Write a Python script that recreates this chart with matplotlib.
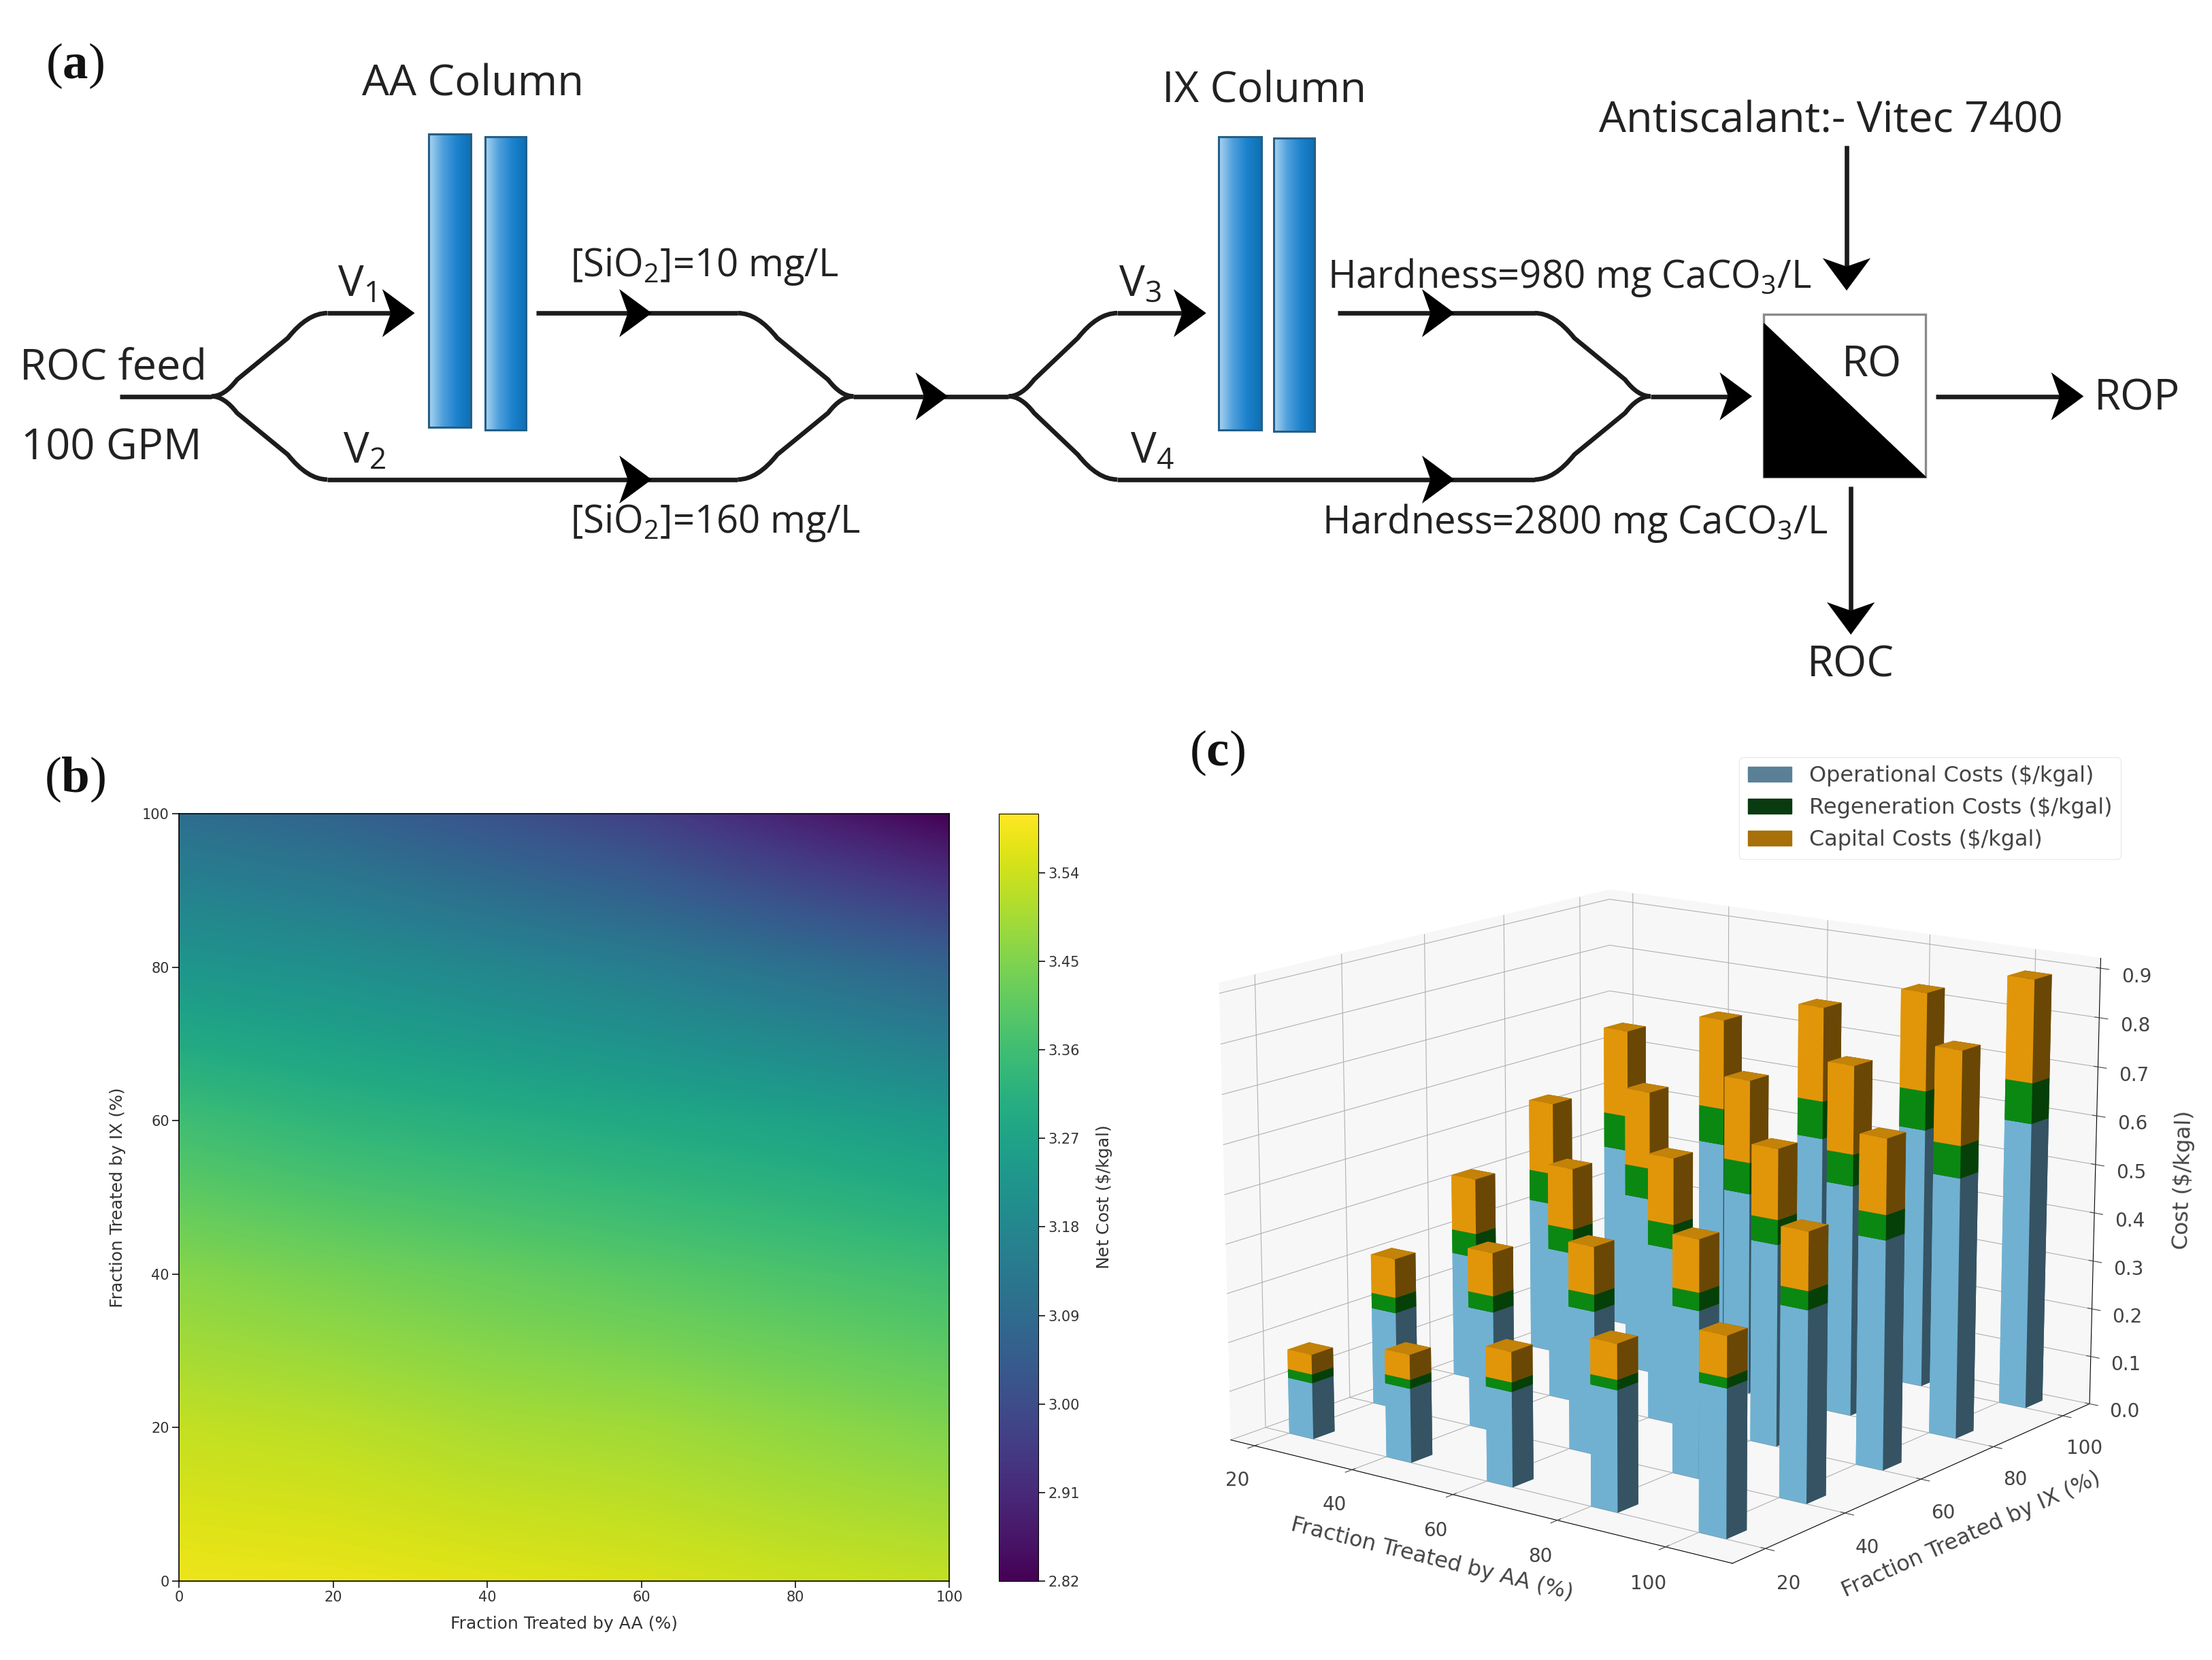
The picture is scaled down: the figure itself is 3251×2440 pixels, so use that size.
import numpy as np
import matplotlib
matplotlib.use('Agg')
import matplotlib.pyplot as plt
from matplotlib.colors import LinearSegmentedColormap
from matplotlib.patches import Polygon, Rectangle, Patch, PathPatch
from matplotlib.path import Path

# panel b: net cost (rows IX = 0..100, cols AA = 0..100)
grid_ticks = [0, 20, 40, 60, 80, 100]
net_cost = [
    [3.58, 3.575, 3.565, 3.555, 3.54, 3.53],
    [3.53, 3.52, 3.50, 3.49, 3.47, 3.45],
    [3.46, 3.44, 3.42, 3.40, 3.38, 3.36],
    [3.36, 3.33, 3.31, 3.29, 3.27, 3.24],
    [3.23, 3.21, 3.18, 3.15, 3.11, 3.07],
    [3.10, 3.07, 3.02, 2.97, 2.89, 2.82],
]
cbar_ticks = [2.82, 2.91, 3.00, 3.09, 3.18, 3.27, 3.36, 3.45, 3.54]

# panel c: cost stacks (rows IX = 20..100, cols AA = 20..100)
fractions = [20, 40, 60, 80, 100]
operational = [
    [.115, .15, .19, .24, .29],
    [.20, .245, .29, .335, .38],
    [.26, .31, .36, .41, .46],
    [.32, .37, .42, .475, .53],
    [.385, .435, .485, .54, .59],
]
regeneration = [
    [.018, .018, .019, .02, .02],
    [.032, .033, .034, .036, .037],
    [.05, .05, .05, .05, .05],
    [.065, .065, .065, .065, .065],
    [.075, .077, .079, .081, .083],
]
capital = [
    [.04, .05, .06, .07, .08],
    [.08, .088, .096, .105, .115],
    [.115, .125, .135, .142, .15],
    [.15, .16, .17, .18, .19],
    [.185, .19, .197, .203, .21],
]
cost_labels = ['Operational Costs ($/kgal)', 'Regeneration Costs ($/kgal)', 'Capital Costs ($/kgal)']
cost_labels = [s.replace('$', r'\$') for s in cost_labels]

plt.rcParams['font.family'] = 'DejaVu Sans'
plt.rcParams['mathtext.fontset'] = 'custom'
plt.rcParams['mathtext.bf'] = 'Liberation Serif:bold'
plt.rcParams['mathtext.default'] = 'regular'

fig = plt.figure(figsize=(32.51, 24.40), dpi=100)
W, H = 1568.0, 1177.0


def rect(l, t, r, b):
    return [l / W, 1 - b / H, (r - l) / W, (b - t) / H]


# schematic, drawn in the coordinates of the shrunk picture
sch = fig.add_axes([0, 0, 1, 1])
sch.set_axis_off()
sch.patch.set_alpha(0)
INK = '#1c1c1c'
DIA = 'Open Sans'


def arrow_head(x, y, direction='right', size=1.0):
    # swept back arrow head, tip at x, y
    pts = np.array([(0, 0), (-23, -17), (-17, 0), (-23, 17)]) * size
    if direction == 'down':
        pts = pts[:, ::-1]
    sch.add_patch(Polygon(pts + [x, y], closed=True, fc='black', ec='none', zorder=5))


def pipe(pts):
    sch.plot([p[0] for p in pts], [p[1] for p in pts], color=INK, lw=4.8,
             solid_joinstyle='round', solid_capstyle='butt', zorder=3)


def branch(xj, yj, xl, yl):
    # diagonal leg of a splitter, from the junction to the level run
    d = 1 if xl > xj else -1
    dy = yl - yj
    verts = [(xj, yj), (xj + d * 9, yj), (xj + d * 18, yj + dy * 0.2),
             (xl - d * 24, yl - dy * 0.3), (xl - d * 10, yl), (xl + d * 4, yl)]
    codes = [Path.MOVETO, Path.CURVE3, Path.CURVE3, Path.LINETO, Path.CURVE3, Path.CURVE3]
    sch.add_patch(PathPatch(Path(verts, codes), fc='none', ec=INK, lw=4.8, zorder=3))


for xj, xl in [(150, 228), (605, 527), (715, 788), (1170, 1092)]:
    branch(xj, 281, xl, 222)
    branch(xj, 281, xl, 340)
pipe([(85, 281), (150, 281)])
pipe([(232, 222), (280, 222)])
pipe([(232, 340), (523, 340)])
pipe([(380, 222), (523, 222)])
pipe([(605, 281), (715, 281)])
pipe([(792, 222), (840, 222)])
pipe([(792, 340), (1088, 340)])
pipe([(948, 222), (1088, 222)])
pipe([(1170, 281), (1228, 281)])
pipe([(1372, 281), (1460, 281)])
pipe([(1309, 103), (1309, 190)])
pipe([(1312, 345), (1312, 435)])
for x, y in [(294, 222), (462, 222), (462, 340), (672, 281), (855, 222),
             (1031, 222), (1031, 340), (1242, 281), (1477, 281)]:
    arrow_head(x, y)
arrow_head(1309, 206, 'down')
arrow_head(1312, 450, 'down')

column_cmap = LinearSegmentedColormap.from_list('col', ['#a9d3f0', '#4f9fdc', '#1c82cc', '#0e6fb4'])
for l, t, r, b in [(304, 95, 334, 303), (344, 97, 373, 305), (864, 97, 894, 305), (903, 98, 932, 306)]:
    sch.imshow(np.linspace(0, 1, 64)[None, :], cmap=column_cmap, extent=(l, r, b, t), aspect='auto', zorder=2)
    sch.add_patch(Rectangle((l, t), r - l, b - t, fc='none', ec='#245f86', lw=2.2, zorder=3))

sch.add_patch(Rectangle((1250, 223), 115, 115, fc='white', ec='#8a8a8a', lw=2.4, zorder=3))
sch.add_patch(Polygon([(1250, 229), (1250, 338), (1365, 338)], closed=True, fc='black', ec='black', lw=1, zorder=4))

dia_text = [
    (335, 60, 'AA Column', 'center'),
    (896, 65, 'IX Column', 'center'),
    (1298, 86, 'Antiscalant:- Vitec 7400', 'center'),
    (14, 261, 'ROC feed', 'left'),
    (15, 318, '100 GPM', 'left'),
    (239, 202, 'V$_1$', 'left'),
    (243, 320, 'V$_2$', 'left'),
    (793, 202, 'V$_3$', 'left'),
    (801, 320, 'V$_4$', 'left'),
    (1327, 259, 'RO', 'center'),
    (1515, 283, 'ROP', 'center'),
    (1312, 472, 'ROC', 'center'),
]
for x, y, s, ha in dia_text:
    sch.text(x, y, s, ha=ha, va='center', fontsize=45.5, family=DIA, color='#222222', zorder=6)
flow_text = [
    (404, 189, '[SiO$_2$]=10 mg/L'),
    (404, 371, '[SiO$_2$]=160 mg/L'),
    (941, 197, 'Hardness=980 mg CaCO$_3$/L'),
    (937, 371, 'Hardness=2800 mg CaCO$_3$/L'),
]
for x, y, s in flow_text:
    sch.text(x, y, s, ha='left', va='center', fontsize=40.5, family=DIA, color='#222222', zorder=6)
for x, y, s in [(53, 47, r'($\mathbf{a}$)'), (53, 553, r'($\mathbf{b}$)'), (863, 534, r'($\mathbf{c}$)')]:
    sch.text(x, y, s, ha='center', va='center', fontsize=54, family='Liberation Serif',
             color='#111111', zorder=6)
sch.set_xlim(0, W)
sch.set_ylim(H, 0)

# panel b: extent is half a cell wider so the grid nodes sit on the ticks
ax_b = fig.add_axes(rect(127, 577, 673, 1121))
im = ax_b.imshow(net_cost, origin='lower', extent=(-10, 110, -10, 110), aspect='auto', cmap='viridis',
                 interpolation='bilinear', vmin=2.82, vmax=3.60)
ax_b.set_xlim(0, 100)
ax_b.set_ylim(0, 100)
ax_b.set_xticks(grid_ticks)
ax_b.set_yticks(grid_ticks)
ax_b.tick_params(labelsize=15, colors='#333333', length=7, width=1.4)
ax_b.set_xlabel('Fraction Treated by AA (%)', fontsize=18, color='#333333', labelpad=12)
ax_b.set_ylabel('Fraction Treated by IX (%)', fontsize=18, color='#333333', labelpad=17)
for s in ax_b.spines.values():
    s.set_linewidth(1.2)
cax = fig.add_axes(rect(708, 577, 736, 1121))
cb = fig.colorbar(im, cax=cax)
cb.set_ticks(cbar_ticks)
cb.set_ticklabels(['%.2f' % v for v in cbar_ticks])
cb.ax.tick_params(labelsize=15, colors='#333333', length=7, width=1.4)
cb.set_label('Net Cost ($\\$$/kgal)', fontsize=18, color='#333333', labelpad=16)

# panel c
ax_c = fig.add_axes(rect(793, 568, 1553, 1148), projection='3d')
ax_c.computed_zorder = False
ax_c.view_init(elev=14.5, azim=-53)
ax_c.set_box_aspect((4, 4, 3), zoom=1.18)
bar_w = 5.0
colors = ['#7fc8ee', '#0c9a14', '#ffaa0a']
order = 1
for j in range(4, -1, -1):
    for i in range(5):
        base = 0.0
        for stack, color in zip((operational, regeneration, capital), colors):
            height = stack[j][i]
            bars = ax_c.bar3d(fractions[i], fractions[j], base,
                              bar_w, bar_w, height, color=color, shade=True)
            bars.set_zorder(order)
            order += 1
            base += height
ax_c.set_xlim(15, 112)
ax_c.set_ylim(12, 108)
ax_c.set_zlim(0, 0.92)
ax_c.set_xticks(fractions)
ax_c.set_yticks(fractions)
ax_c.set_zticks([0.0, 0.1, 0.2, 0.3, 0.4, 0.5, 0.6, 0.7, 0.8, 0.9])
for axis in (ax_c.xaxis, ax_c.yaxis, ax_c.zaxis):
    axis.set_pane_color((0.97, 0.97, 0.97, 1.0))
ax_c.tick_params(labelsize=20, colors='#444444', pad=11)
ax_c.set_xlabel('Fraction Treated by AA (%)', fontsize=23, color='#444444', labelpad=22)
ax_c.set_ylabel('Fraction Treated by IX (%)', fontsize=23, color='#444444', labelpad=22)
ax_c.set_zlabel('Cost ($\\$$/kgal)', fontsize=23, color='#444444', labelpad=26)

handles = [Patch(color=c) for c in ['#5a8098', '#0a3a10', '#a8700a']]
fig.legend(handles, cost_labels, loc='upper right', bbox_to_anchor=(1511 / W, 1 - 529 / H),
           fontsize=23, labelcolor='#444444', framealpha=0.8, edgecolor='#e6e6e6')

fig.savefig('out.png', dpi=100)
